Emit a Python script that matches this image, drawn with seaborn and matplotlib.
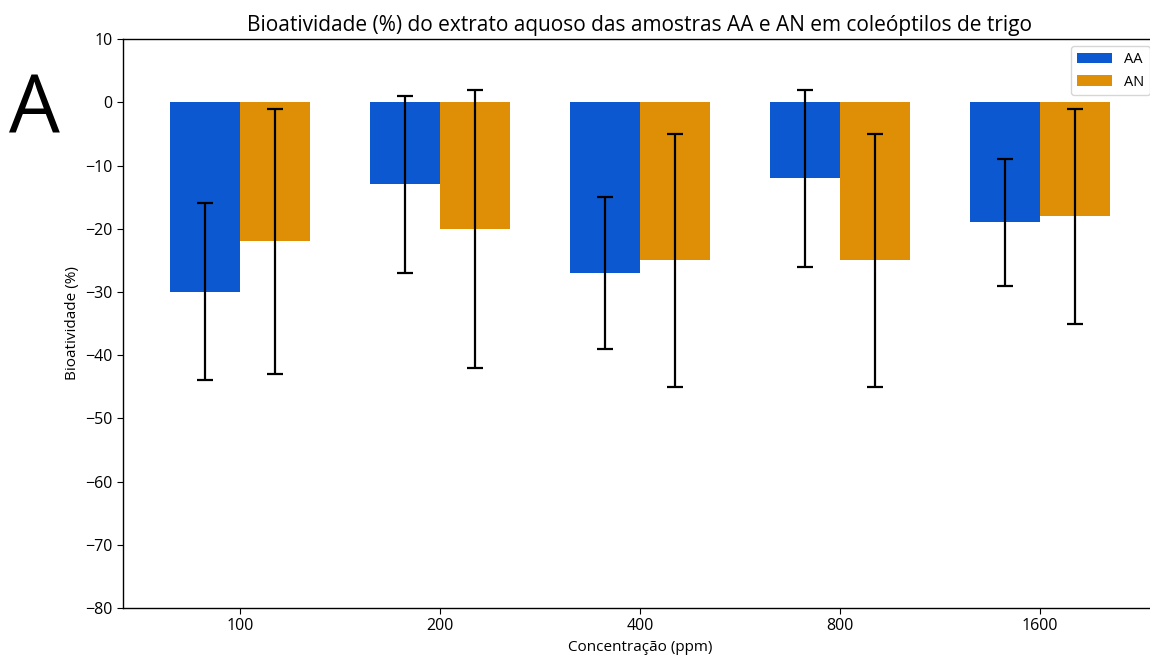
import pandas as pd
import matplotlib.pyplot as plt
import seaborn as sns

concentracoes = ['100', '200', '400', '800', '1600']
amostras = ['AA', 'AN']
media_aa = [-30, -13, -27, -12, -19]
media_an = [-22, -20, -25, -25, -18]
erro_aa = [14, 14, 12, 14, 10]
erro_an = [21, 22, 20, 20, 17]
cores = {'AA': '#0b58d0', 'AN': '#de8f05'}

sns.set_style('white')
plt.rcParams['font.family'] = ['Open Sans', 'DejaVu Sans']
plt.rcParams.update({'text.color': 'black', 'axes.labelcolor': 'black',
                     'xtick.color': 'black', 'ytick.color': 'black',
                     'axes.edgecolor': 'black', 'xtick.bottom': True, 'ytick.left': True})

df = pd.DataFrame({
    'Concentração (ppm)': concentracoes * 2,
    'Amostra': ['AA'] * 5 + ['AN'] * 5,
    'Bioatividade (%)': media_aa + media_an,
})
erros = {'AA': erro_aa, 'AN': erro_an}

fig = plt.figure(figsize=(11.5, 6.63), dpi=100)
ax = fig.add_axes([0.107, 0.083, 0.899, 0.858])

sns.barplot(data=df, x='Concentração (ppm)', y='Bioatividade (%)', hue='Amostra',
            order=concentracoes, hue_order=amostras, palette=cores,
            errorbar=None, width=0.7, gap=0, saturation=1, linewidth=0, ax=ax)

# barras de erro (desvio) sobre cada barra
for amostra, cont in zip(amostras, ax.containers):
    xs = [b.get_x() + b.get_width() / 2 for b in cont]
    ys = [b.get_height() for b in cont]
    ax.errorbar(xs, ys, yerr=erros[amostra], fmt='none', ecolor='black',
                elinewidth=1.6, capsize=6, capthick=1.6)

ax.set_ylim(-80, 10)
ax.set_yticks(range(-80, 11, 10))
ax.set_xlim(-0.585, 4.585)
ax.tick_params(labelsize=11.5, length=4)
for s in ax.spines.values():
    s.set_linewidth(1)
ax.set_xlabel('Concentração (ppm)', fontsize=11)
ax.set_ylabel('Bioatividade (%)', fontsize=11)
ax.set_title('Bioatividade (%) do extrato aquoso das amostras AA e AN em coleóptilos de trigo',
             fontsize=15)
ax.legend(loc='upper right', fontsize=10.5, title=None, handlelength=2.4)

fig.text(0.008, 0.80, 'A', fontsize=58, color='black')

fig.savefig('out.png', dpi=100)
